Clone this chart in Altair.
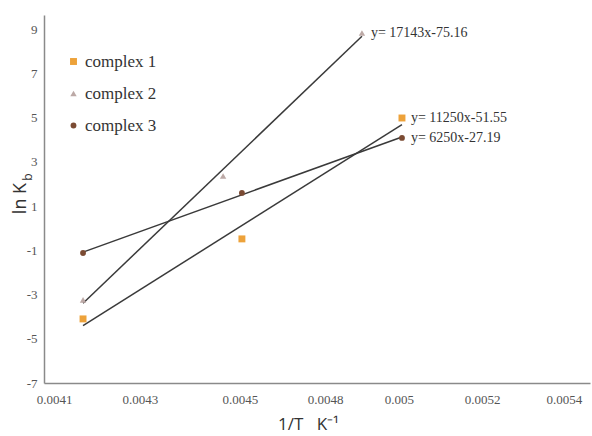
import altair as alt
import pandas as pd

# ---- data ----
series_names = ["complex 1", "complex 2", "complex 3"]
x_c1 = [0.004174, 0.004579, 0.004987]
y_c1 = [-4.10, -0.48, 4.99]
x_c2 = [0.004174, 0.004531, 0.004885]
y_c2 = [-3.24, 2.37, 8.84]
x_c3 = [0.004174, 0.004579, 0.004987]
y_c3 = [-1.12, 1.60, 4.09]
equations = ["y= 11250x-51.55", "y= 17143x-75.16", "y= 6250x-27.19"]

x_tick_values = [0.0041, 0.004319, 0.004574, 0.004791, 0.004979, 0.005191, 0.0054]
x_tick_labels = ["0.0041", "0.0043", "0.0045", "0.0048", "0.005", "0.0052", "0.0054"]
y_tick_values = [-7, -5, -3, -1, 1, 3, 5, 7, 9]

colors = ["#EDA23A", "#BCA9A6", "#7B4B33"]
shapes = ["square", "triangle-up", "circle"]
sizes = [48, 34, 26]

rows = []
for name, xs, ys in zip(series_names, [x_c1, x_c2, x_c3], [y_c1, y_c2, y_c3]):
    for xv, yv in zip(xs, ys):
        rows.append({"series": name, "x": xv, "y": yv})
df = pd.DataFrame(rows)

last_rows = []
for name, xs, ys, eq in zip(series_names, [x_c1, x_c2, x_c3], [y_c1, y_c2, y_c3], equations):
    last_rows.append({"series": name, "x": xs[-1], "y": ys[-1], "eq": eq})
df_last = pd.DataFrame(last_rows)

vals_js = "[" + ",".join(str(v) for v in x_tick_values) + "]"
labs_js = "[" + ",".join("'" + s + "'" for s in x_tick_labels) + "]"
label_expr = f"{labs_js}[indexof({vals_js}, datum.value)]"

SERIF = "Liberation Serif"

x_scale = alt.Scale(domain=[0.0040745, 0.0054663], zero=False, nice=False)
y_scale = alt.Scale(domain=[-7, 9.65], zero=False, nice=False)

x_axis = alt.Axis(
    values=x_tick_values, labelExpr=label_expr, ticks=False, grid=False,
    labelFont=SERIF, labelFontSize=13, labelColor="#555555",
    labelPadding=10, labelFlush=False, domainColor="#8a8a8a", domainWidth=1.5,
    title="1/T\u00a0\u00a0\u00a0K⁻¹", titleFont="Open Sans", titleFontSize=17,
    titleFontWeight="normal", titleColor="#333333",
    titleX=264, titleY=41, titleBaseline="middle", titleAlign="center",
)
y_axis = alt.Axis(
    values=y_tick_values, labelExpr="datum.value + ''", ticks=False, grid=False,
    labelFont=SERIF, labelFontSize=13, labelColor="#555555",
    labelPadding=7, domainColor="#8a8a8a", domainWidth=1.5,
    title="ln K", titleFont="Open Sans", titleFontSize=18,
    titleFontWeight="normal", titleColor="#333333",
    titleX=-24, titleY=183, titleAngle=270, titleBaseline="middle", titleAlign="center",
)

base = alt.Chart(df)

lines = base.transform_regression(
    "x", "y", groupby=["series"]
).mark_line(color="#3a3a3a", strokeWidth=1.5).encode(
    x=alt.X("x:Q", scale=x_scale, axis=x_axis),
    y=alt.Y("y:Q", scale=y_scale, axis=y_axis),
    detail="series:N",
)

points = base.mark_point(filled=True, opacity=1).encode(
    x=alt.X("x:Q", scale=x_scale),
    y=alt.Y("y:Q", scale=y_scale),
    color=alt.Color("series:N", scale=alt.Scale(domain=series_names, range=colors),
                    legend=alt.Legend(title=None)),
    shape=alt.Shape("series:N", scale=alt.Scale(domain=series_names, range=shapes),
                    legend=alt.Legend(title=None)),
    size=alt.Size("series:N", scale=alt.Scale(domain=series_names, range=sizes), legend=None),
)

eq_text = alt.Chart(df_last).mark_text(
    align="left", baseline="middle", dx=9, font=SERIF,
    fontSize=14, color="#333333",
).encode(
    x=alt.X("x:Q", scale=x_scale),
    y=alt.Y("y:Q", scale=y_scale),
    text="eq:N",
)

sub_b = alt.Chart(pd.DataFrame({"t": ["b"]})).mark_text(
    font="Open Sans", fontSize=12, color="#333333", angle=270,
    align="center", baseline="middle",
).encode(x=alt.value(-16), y=alt.value(162), text="t:N")

chart = alt.layer(lines, points, eq_text, sub_b).properties(
    width=546, height=368,
    padding={"left": 44, "top": 15, "right": 2, "bottom": 53},
    autosize=alt.AutoSizeParams(type="none"),
    background="white",
).configure_view(stroke=None).configure_axis(
    labelFont=SERIF,
).configure_legend(
    orient="none", legendX=21, legendY=38, padding=0,
    labelFont=SERIF, labelFontSize=17, labelColor="#333333",
    symbolSize=40, rowPadding=14, labelOffset=3, symbolStrokeWidth=0,
)

chart.save("out.html", embed_options={"renderer": "svg", "actions": False})
